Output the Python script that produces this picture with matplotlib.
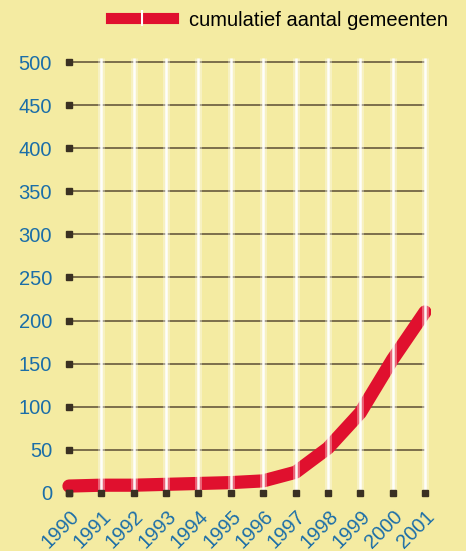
import matplotlib
matplotlib.use("Agg")
import matplotlib.pyplot as plt
from matplotlib.lines import Line2D
from matplotlib.legend_handler import HandlerTuple
from matplotlib.transforms import ScaledTranslation

years = [1990, 1991, 1992, 1993, 1994, 1995, 1996, 1997, 1998, 1999, 2000, 2001]
cumulatief = [8, 9, 9, 10, 11, 12, 14, 24, 52, 93, 155, 210]
yticks = [0, 50, 100, 150, 200, 250, 300, 350, 400, 450, 500]
year_labels = [str(y) for y in years]
legend_label = "cumulatief aantal gemeenten"

bg = "#f4eba2"
blue = "#1b6ea8"
red = "#e0102e"
dark = "#5b4c34"

plt.rcParams['font.family'] = ['Liberation Sans', 'DejaVu Sans']

fig = plt.figure(figsize=(4.66, 5.51), dpi=100)
fig.patch.set_facecolor(bg)
ax = fig.add_axes([0.1341, 0.0897, 0.7918, 0.8134])
ax.set_facecolor(bg)
ax.set_xlim(1989.8, 2001.2)
ax.set_ylim(-10, 510)
for s in ax.spines.values():
    s.set_visible(False)

# horizontal dark gridlines
ax.hlines(yticks[1:], years[0], years[-1], color=dark, lw=1.1, zorder=1)

# curve
line, = ax.plot(years, cumulatief, color=red, lw=9.5, solid_capstyle='round',
                solid_joinstyle='round', zorder=3)

# white vertical lines (drawn over the curve)
ax.vlines(years[1:], 0, 505, color='white', lw=5, alpha=0.35, zorder=4)
ax.vlines(years[1:], 0, 505, color='white', lw=1.8, alpha=0.95, zorder=5)

# tick dots
ax.plot([years[0]] * len(yticks), yticks, ls='none', marker='s', ms=4.5,
        color='#3a3022', zorder=6, clip_on=False)
ax.plot(years, [0] * len(years), ls='none', marker='s', ms=4.5,
        color='#3a3022', zorder=6, clip_on=False)

ax.set_yticks(yticks)
ax.set_yticklabels([str(v) for v in yticks], color=blue, fontsize=14.5)
ax.set_xticks(years)
ax.set_xticklabels(year_labels, color=blue, fontsize=14.5, rotation=45,
                   ha='right', va='center', rotation_mode='anchor')
ax.tick_params(axis='both', length=0)
ax.tick_params(axis='y', pad=7.5)
ax.tick_params(axis='x', pad=0)
off = ScaledTranslation(7 / 100, -12 / 100, fig.dpi_scale_trans)
for lab in ax.get_xticklabels():
    lab.set_transform(lab.get_transform() + off)

# legend
h_red = Line2D([], [], color=red, lw=8)
h_white = Line2D([], [], color='white', ls='none', marker='|', ms=12, mew=1.5)
leg = ax.legend([(h_red, h_white)], [legend_label],
                handler_map={tuple: HandlerTuple(ndivide=1)},
                loc='center left', bbox_to_anchor=(111 / 466, 1 - 20 / 551),
                bbox_transform=fig.transFigure, frameon=False, fontsize=14.5,
                handlelength=3.1, handletextpad=0.75, borderpad=0, borderaxespad=0)

fig.savefig("out.png", dpi=100, facecolor=bg)
